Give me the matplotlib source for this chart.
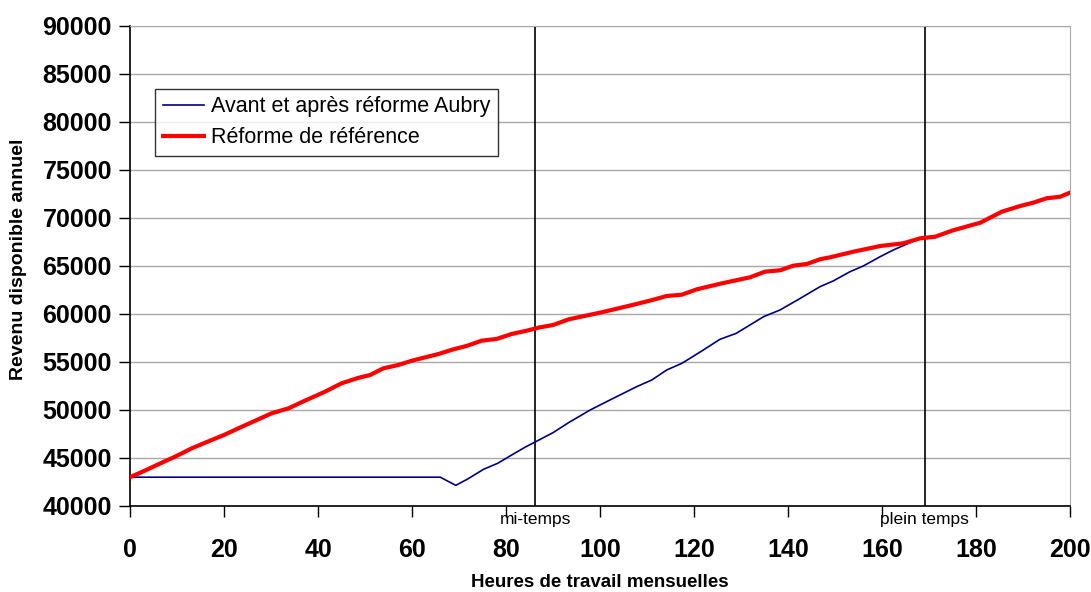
import matplotlib
matplotlib.use("Agg")
import matplotlib.pyplot as plt

plt.rcParams['font.family'] = ['Liberation Sans', 'DejaVu Sans']

# Heures de travail mensuelles / revenu disponible annuel
aubry_h = [0, 10, 20, 30, 40, 50, 60, 66, 69.3, 71.8, 75.2, 78.2, 81.2, 84, 86.2, 90, 93.3,
           97.9, 102.1, 107.8, 111, 114.2, 117.4, 121.5, 125.5, 129, 134.8, 138.3, 142.5,
           146.8, 149.6, 153.2, 156, 159.6, 162.4, 166.5, 168.1, 171.3, 175, 180.9, 185.5,
           189.4, 192.2, 195, 197.9, 200]
aubry_v = [43000, 43000, 43000, 43000, 43000, 43000, 43000, 43000, 42150, 42800, 43820, 44440,
           45310, 46110, 46670, 47640, 48680, 50000, 51040, 52430, 53125, 54170, 54860, 56100,
           57360, 57990, 59720, 60420, 61600, 62845, 63440, 64410, 65000, 65970, 66670, 67550,
           67880, 68050, 68700, 69510, 70660, 71250, 71600, 72050, 72220, 72640]

ref_h = [0, 3, 6, 9.6, 13.1, 16.5, 20, 23.8, 27.3, 30.1, 33.7, 37.2, 41.5, 45, 48.6, 51.1,
         53.9, 57.1, 60, 65.6, 68.8, 71.6, 74.8, 78, 81.2, 84.4, 87.2, 90, 93.3, 100, 104,
         107, 110.6, 114.2, 117.4, 120.6, 126, 131.9, 135.1, 138.3, 141.1, 144, 146.8,
         148.9, 154, 159.6, 164.5, 168.1, 171.3, 175, 180.9, 185.5, 189.4, 192.2, 195,
         197.9, 200]
ref_v = [43000, 43650, 44340, 45140, 46000, 46700, 47400, 48260, 49030, 49650, 50170, 50970,
         51910, 52780, 53350, 53650, 54340, 54690, 55140, 55830, 56320, 56670, 57220, 57400,
         57920, 58260, 58610, 58850, 59440, 60140, 60600, 60950, 61390, 61875, 62010, 62570,
         63200, 63820, 64410, 64550, 65030, 65210, 65700, 65900, 66500, 67080, 67360, 67880,
         68050, 68700, 69510, 70660, 71250, 71600, 72050, 72220, 72640]

mi_temps = 86.2
plein_temps = 169.1

fig = plt.figure(figsize=(10.91, 5.92), dpi=100)
ax = fig.add_axes([0.1192, 0.1453, 0.8616, 0.8108])

ax.set_xlim(0, 200)
ax.set_ylim(40000, 90000)
ax.set_xticks(range(0, 201, 20))
ax.set_yticks(range(40000, 90001, 5000))
ax.yaxis.grid(True, color='#a8a8a8', lw=1)
ax.set_axisbelow(True)

ax.plot(aubry_h, aubry_v, color='#000080', lw=1.2, label='Avant et après réforme Aubry', zorder=3)
ax.plot(ref_h, ref_v, color='#ff0000', lw=3, label='Réforme de référence', zorder=4)

ax.axvline(mi_temps, color='black', lw=1.2, zorder=2)
ax.axvline(plein_temps, color='black', lw=1.2, zorder=2)
ax.text(mi_temps, 39400, 'mi-temps', ha='center', va='top', fontsize=12.5)
ax.text(plein_temps, 39400, 'plein temps', ha='center', va='top', fontsize=12.5)

for s in ['top', 'right']:
    ax.spines[s].set_color('#a8a8a8')
for s in ['left', 'bottom']:
    ax.spines[s].set_color('black')
    ax.spines[s].set_linewidth(1.2)

ax.tick_params(axis='both', direction='out', length=8, width=1, labelsize=18)
ax.tick_params(axis='x', pad=15)
ax.tick_params(axis='y', pad=5)
for lab in ax.get_xticklabels() + ax.get_yticklabels():
    lab.set_fontweight('bold')

ax.set_xlabel('Heures de travail mensuelles', fontsize=13.5, fontweight='bold', labelpad=9)
fig.text(0.0165, 0.358, 'Revenu disponible annuel', rotation=90, ha='center', va='bottom',
         fontsize=14, fontweight='bold')

leg = ax.legend(loc='upper left', bbox_to_anchor=(0.027, 0.869), fontsize=15.5,
                frameon=True, fancybox=False, edgecolor='black', borderpad=0.35,
                handlelength=1.9, handletextpad=0.35, labelspacing=0.45, borderaxespad=0)
leg.get_frame().set_linewidth(1)

fig.savefig('out.png', dpi=100)
